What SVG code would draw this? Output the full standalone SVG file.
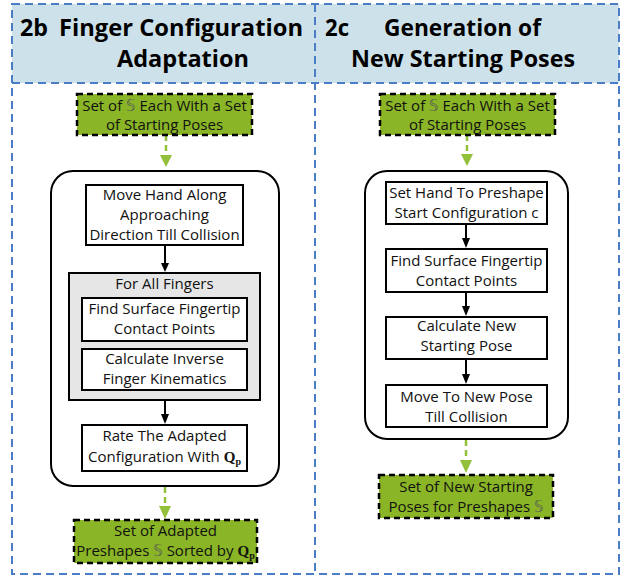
<svg xmlns="http://www.w3.org/2000/svg" width="622" height="577" viewBox="0 0 622 577">
<defs>
<style>
.t{font-family:"Open Sans","Liberation Sans",sans-serif;font-size:15px;fill:#111;text-anchor:middle}
.h{font-family:"Open Sans","Liberation Sans",sans-serif;font-size:23px;font-weight:bold;fill:#000}
.box{fill:#fff;stroke:#000;stroke-width:2}
.grn{fill:#8ab526;stroke:#000;stroke-width:2.5;stroke-dasharray:6 4}
.frame{fill:none;stroke:#000;stroke-width:2}
.blue{fill:none;stroke:#4a7dc6;stroke-width:2;stroke-dasharray:8 5}
.blk{stroke:#000;stroke-width:2;fill:none}
.garr{stroke:#92c03a;stroke-width:2.5;fill:none;stroke-dasharray:6 4}
.ds{font-family:"DejaVu Sans",sans-serif;fill:#5c6650}
.q{font-family:"Liberation Serif",serif;font-weight:bold}
</style>
</defs>
<rect x="12" y="4" width="607" height="79" fill="#cde1ea"/>
<g id="frame">
<rect class="blue" x="12" y="4" width="607" height="570"/>
<line class="blue" x1="12" y1="83" x2="619" y2="83"/>
<line class="blue" x1="315" y1="4" x2="315" y2="574"/>
</g>
<g id="title-2b">
<text class="h" x="20" y="36" textLength="28" lengthAdjust="spacingAndGlyphs">2b</text>
<text class="h" x="59" y="36" textLength="244" lengthAdjust="spacingAndGlyphs">Finger Configuration</text>
<text class="h" x="117" y="67" textLength="132" lengthAdjust="spacingAndGlyphs">Adaptation</text>
</g>
<g id="title-2c">
<text class="h" x="325" y="36" textLength="24" lengthAdjust="spacingAndGlyphs">2c</text>
<text class="h" x="384" y="36" textLength="157" lengthAdjust="spacingAndGlyphs">Generation of</text>
<text class="h" x="351" y="67" textLength="224" lengthAdjust="spacingAndGlyphs">New Starting Poses</text>
</g>
<g id="connectors">
<line class="garr" x1="166" y1="135" x2="166" y2="156"/>
<path d="M160,155 L172,155 L166,167 z" fill="#92c03a"/>
<line class="blk" x1="165" y1="245" x2="165" y2="264"/>
<path d="M161,263 L169,263 L165,272 z" fill="#000"/>
<line class="blk" x1="165" y1="400" x2="165" y2="415"/>
<path d="M161,414 L169,414 L165,424 z" fill="#000"/>
<line class="garr" x1="165" y1="487" x2="165" y2="507"/>
<path d="M159,506 L171,506 L165,519 z" fill="#92c03a"/>
<line class="garr" x1="467" y1="135" x2="467" y2="155"/>
<path d="M461,154 L473,154 L467,166 z" fill="#92c03a"/>
<line class="blk" x1="466" y1="224" x2="466" y2="239"/>
<path d="M462,238 L470,238 L466,248 z" fill="#000"/>
<line class="blk" x1="466" y1="292" x2="466" y2="307"/>
<path d="M462,306 L470,306 L466,316 z" fill="#000"/>
<line class="blk" x1="466" y1="359" x2="466" y2="375"/>
<path d="M462,374 L470,374 L466,384 z" fill="#000"/>
<line class="garr" x1="466" y1="440" x2="466" y2="461"/>
<path d="M460,460 L472,460 L466,473 z" fill="#92c03a"/>
</g>
<g id="in-2b">
<rect class="grn" x="77" y="94" width="175" height="41"/>
<text class="t" x="164.5" y="111">Set of <tspan class="ds">𝕊</tspan> Each With a Set</text>
<text class="t" x="164.5" y="130">of Starting Poses</text>
</g>
<g id="loop-2b">
<rect class="frame" x="51" y="171" width="228" height="315" rx="22"/>
</g>
<g id="move-hand">
<rect class="box" x="86" y="185" width="157" height="60"/>
<text class="t" x="164.5" y="200">Move Hand Along</text>
<text class="t" x="164.5" y="220">Approaching</text>
<text class="t" x="164.5" y="240">Direction Till Collision</text>
</g>
<g id="for-all-fingers">
<rect x="69" y="273" width="191" height="127" fill="#e6e6e6" stroke="#000" stroke-width="2"/>
<text class="t" x="164.5" y="289">For All Fingers</text>
</g>
<g id="find-contact-2b">
<rect class="box" x="82" y="298" width="165" height="43"/>
<text class="t" x="164.5" y="314">Find Surface Fingertip</text>
<text class="t" x="164.5" y="334">Contact Points</text>
</g>
<g id="inverse-kin">
<rect class="box" x="82" y="349" width="165" height="41"/>
<text class="t" x="164.5" y="364">Calculate Inverse</text>
<text class="t" x="164.5" y="384">Finger Kinematics</text>
</g>
<g id="rate">
<rect class="box" x="82" y="425" width="165" height="46"/>
<text class="t" x="164.5" y="441">Rate The Adapted</text>
<text class="t" x="164.5" y="462">Configuration With <tspan class="q">Q</tspan><tspan class="q" font-size="10" dy="3">p</tspan></text>
</g>
<g id="out-2b">
<rect class="grn" x="74" y="520" width="183" height="43"/>
<text class="t" x="165.5" y="536">Set of Adapted</text>
<text class="t" x="165.5" y="556">Preshapes <tspan class="ds">𝕊</tspan> Sorted by <tspan class="q">Q</tspan><tspan class="q" font-size="10" dy="3">p</tspan></text>
</g>
<g id="in-2c">
<rect class="grn" x="380" y="94" width="175" height="41"/>
<text class="t" x="467.5" y="111">Set of <tspan class="ds">𝕊</tspan> Each With a Set</text>
<text class="t" x="467.5" y="130">of Starting Poses</text>
</g>
<g id="loop-2c">
<rect class="frame" x="365" y="171" width="203" height="268" rx="22"/>
</g>
<g id="set-hand">
<rect class="box" x="386" y="182" width="161" height="42"/>
<text class="t" x="466.5" y="198">Set Hand To Preshape</text>
<text class="t" x="466.5" y="218">Start Configuration c</text>
</g>
<g id="find-contact-2c">
<rect class="box" x="386" y="249" width="161" height="43"/>
<text class="t" x="466.5" y="266">Find Surface Fingertip</text>
<text class="t" x="466.5" y="286">Contact Points</text>
</g>
<g id="calc-new">
<rect class="box" x="386" y="317" width="161" height="42"/>
<text class="t" x="466.5" y="331">Calculate New</text>
<text class="t" x="466.5" y="351">Starting Pose</text>
</g>
<g id="move-new">
<rect class="box" x="386" y="385" width="161" height="42"/>
<text class="t" x="466.5" y="402">Move To New Pose</text>
<text class="t" x="466.5" y="422">Till Collision</text>
</g>
<g id="out-2c">
<rect class="grn" x="379" y="475" width="174" height="43"/>
<text class="t" x="466" y="492">Set of New Starting</text>
<text class="t" x="466" y="512">Poses for Preshapes <tspan class="ds">𝕊</tspan></text>
</g>
</svg>
